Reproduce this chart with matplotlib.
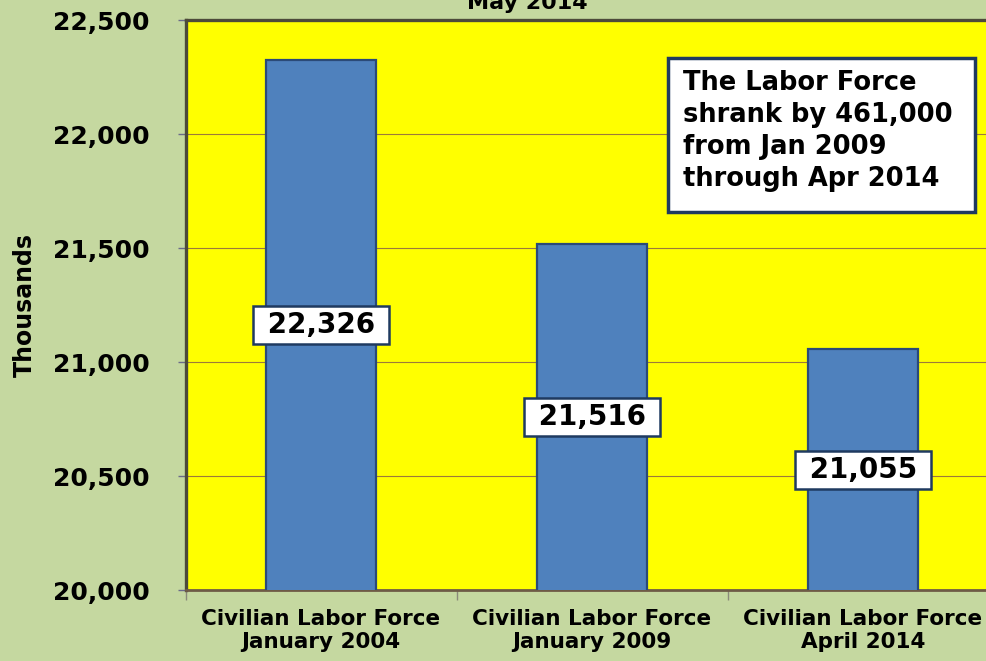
import matplotlib
matplotlib.use("Agg")

import matplotlib.pyplot as plt
from matplotlib.patches import Rectangle
from matplotlib.ticker import FuncFormatter, FixedLocator

# Civilian labor force, thousands
periods = ["Civilian Labor Force\nJanuary 2004",
           "Civilian Labor Force\nJanuary 2009",
           "Civilian Labor Force\nApril 2014"]
labor_force = [22326, 21516, 21055]
y_ticks = [20000, 20500, 21000, 21500, 22000, 22500]

note = "The Labor Force\nshrank by 461,000\nfrom Jan 2009\nthrough Apr 2014"
title = "May 2014"

BG = "#c5d8a0"
PLOT_BG = "#ffff00"
BAR = "#4f81bd"
BAR_EDGE = "#2b4a78"
BOX_EDGE = "#1f3a60"
GRID = "#9c7a3a"

plt.rcParams["font.family"] = ["DejaVu Sans"]
plt.rcParams["font.weight"] = "bold"

fig = plt.figure(figsize=(9.87, 6.61), dpi=100, facecolor=BG)
# plot area runs a little past the right edge of the canvas
ax = fig.add_axes([0.188, 0.1074, 0.8237, 0.8623])
ax.set_facecolor(PLOT_BG)

x = list(range(len(periods)))
ax.bar(x, labor_force, width=0.406, color=BAR, edgecolor=BAR_EDGE,
       linewidth=1.6, zorder=3)

ax.set_xlim(-0.5, len(periods) - 0.5)
ax.set_ylim(y_ticks[0], y_ticks[-1])
ax.set_yticks(y_ticks)
ax.yaxis.set_major_formatter(FuncFormatter(lambda v, _: f"{v:,.0f}"))
ax.grid(axis="y", color=GRID, linewidth=0.8, zorder=1)
ax.set_axisbelow(True)

# category labels at bar centres, tick marks on the category boundaries
ax.set_xticks(x)
ax.set_xticklabels(periods, fontsize=15.5, fontweight="bold", linespacing=1.15)
ax.tick_params(axis="x", which="major", length=0, pad=14)
ax.xaxis.set_minor_locator(FixedLocator([i - 0.5 for i in range(len(periods) + 1)]))
ax.tick_params(axis="x", which="minor", length=7, width=1, color="#8a8a7a")
ax.tick_params(axis="y", length=6, width=1, color="#6a6a8a", pad=20,
               labelsize=18)
for lbl in ax.get_yticklabels():
    lbl.set_fontweight("bold")

ax.set_ylabel("Thousands", fontsize=17, fontweight="bold")
ax.yaxis.set_label_coords(-0.183, 0.5)

for side in ["left", "top"]:
    ax.spines[side].set_color("#4d4a3a")
    ax.spines[side].set_linewidth(2.4)
ax.spines["bottom"].set_color("#6e5b46")
ax.spines["bottom"].set_linewidth(2.0)
ax.spines["right"].set_visible(False)

# value labels in the middle of each bar
for xi, val in zip(x, labor_force):
    ax.text(xi, (y_ticks[0] + val) / 2, f" {val:,} ", ha="center", va="center",
            fontsize=20, fontweight="bold", color="black", zorder=5,
            bbox=dict(boxstyle="square,pad=0.18", facecolor="white",
                      edgecolor=BOX_EDGE, linewidth=1.8))

# call-out box
ax.add_patch(Rectangle((0.5935, 0.6632), 0.3776, 0.2702, transform=ax.transAxes,
                       facecolor="white", edgecolor=BOX_EDGE, linewidth=2.5,
                       zorder=4))
ax.text(0.612, 0.912, note, transform=ax.transAxes, ha="left", va="top",
        fontsize=18.5, fontweight="bold", linespacing=1.3, zorder=5)

fig.text(0.534, 0.987, title, ha="center", va="baseline", fontsize=16,
         fontweight="bold")

fig.savefig("out.png", dpi=100, facecolor=BG)
